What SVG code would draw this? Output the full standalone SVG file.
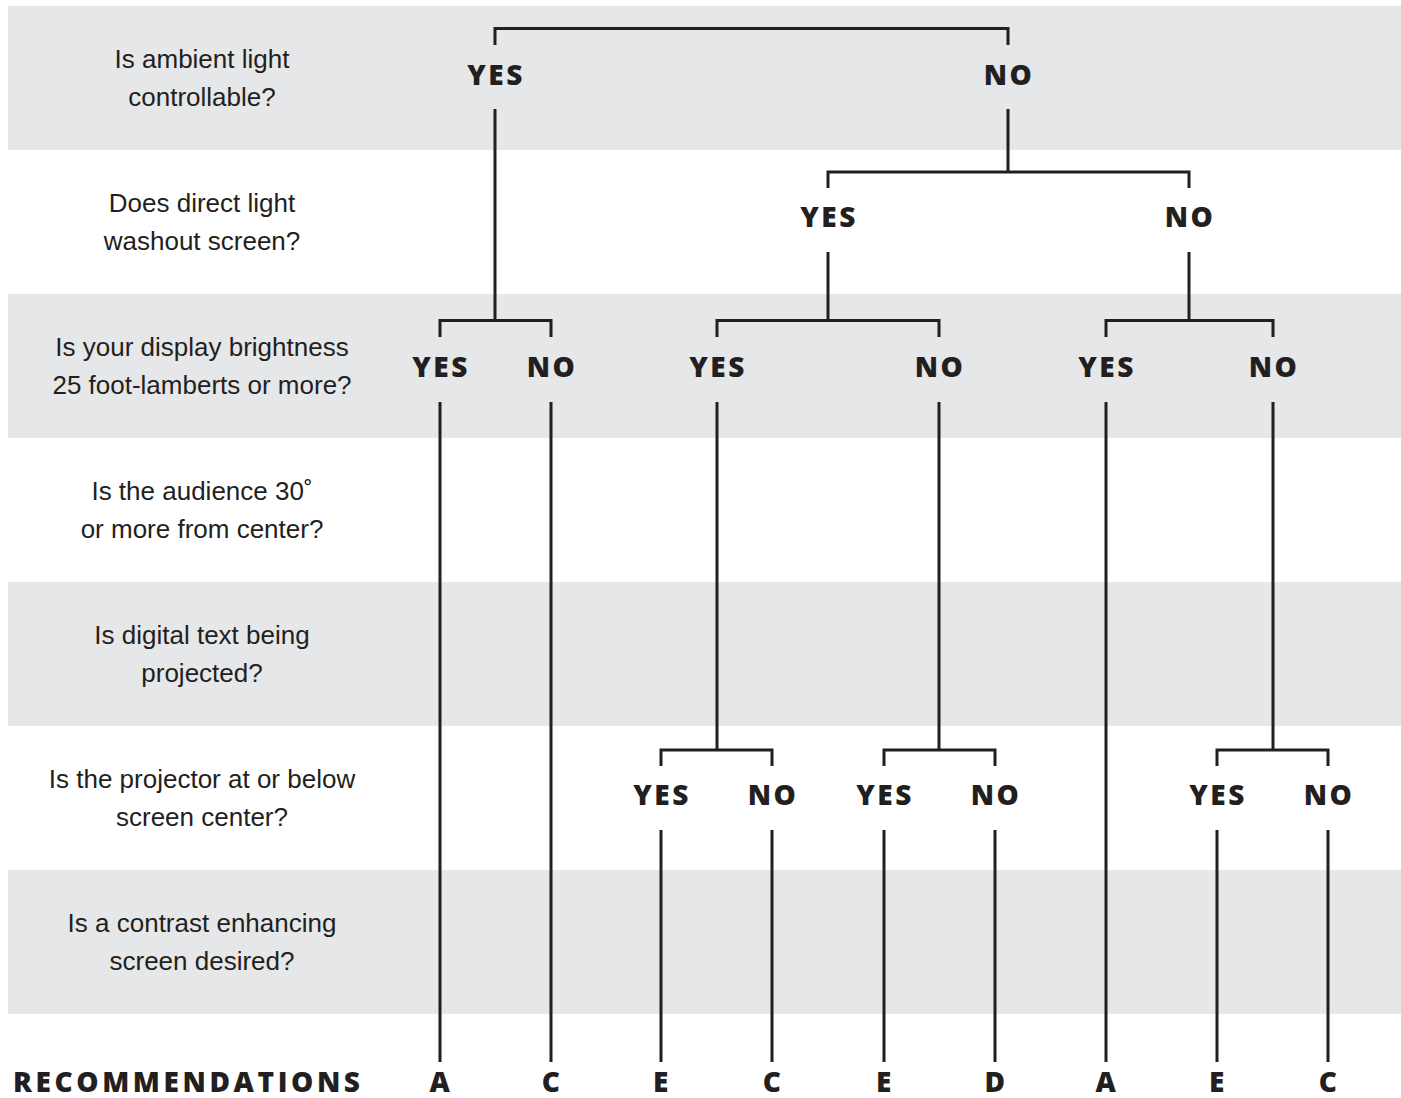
<svg xmlns="http://www.w3.org/2000/svg" width="1401" height="1098" viewBox="0 0 1401 1098">
<style>
.band{fill:#e6e7e8}
.q{font-family:"Liberation Sans",Arial,sans-serif;font-size:26px;fill:#231f20;text-anchor:middle}
.a{font-family:"Open Sans",sans-serif;font-weight:800;font-size:28px;fill:#231f20;text-anchor:middle;letter-spacing:2.5px}
.r{font-family:"Open Sans",sans-serif;font-weight:800;font-size:28px;fill:#231f20}
.c{fill:none;stroke:#231f20;stroke-width:3;stroke-linecap:butt;stroke-linejoin:miter}
</style>
<rect width="1401" height="1098" fill="#ffffff"/>
<g id="bands">
<rect class="band" x="8" y="6" width="1393" height="144"/>
<rect class="band" x="8" y="294" width="1393" height="144"/>
<rect class="band" x="8" y="582" width="1393" height="144"/>
<rect class="band" x="8" y="870" width="1393" height="144"/>
</g>
<g id="questions">
<g id="q1"><text class="q" x="202" y="68">Is ambient light</text><text class="q" x="202" y="106">controllable?</text></g>
<g id="q2"><text class="q" x="202" y="212">Does direct light</text><text class="q" x="202" y="250">washout screen?</text></g>
<g id="q3"><text class="q" x="202" y="356">Is your display brightness</text><text class="q" x="202" y="394">25 foot-lamberts or more?</text></g>
<g id="q4"><text class="q" x="202" y="500">Is the audience 30˚</text><text class="q" x="202" y="538">or more from center?</text></g>
<g id="q5"><text class="q" x="202" y="644">Is digital text being</text><text class="q" x="202" y="682">projected?</text></g>
<g id="q6"><text class="q" x="202" y="788">Is the projector at or below</text><text class="q" x="202" y="826">screen center?</text></g>
<g id="q7"><text class="q" x="202" y="932">Is a contrast enhancing</text><text class="q" x="202" y="970">screen desired?</text></g>
</g>
<g id="connectors">
<path class="c" d="M495,45 V28.5 H1008 V45"/>
<path class="c" d="M495,109 V320.5 M440,337 V320.5 H551 V337"/>
<path class="c" d="M1008,109 V172 M828,188 V172 H1189 V188"/>
<path class="c" d="M828,252 V320.5 M717,337 V320.5 H939 V337"/>
<path class="c" d="M1189,252 V320.5 M1106,337 V320.5 H1273 V337"/>
<path class="c" d="M440,402 V1062 M551,402 V1062 M1106,402 V1062"/>
<path class="c" d="M717,402 V750 M661,766 V750 H772 V766"/>
<path class="c" d="M939,402 V750 M884,766 V750 H995 V766"/>
<path class="c" d="M1273,402 V750 M1217,766 V750 H1328 V766"/>
<path class="c" d="M661,830 V1062 M772,830 V1062 M884,830 V1062 M995,830 V1062 M1217,830 V1062 M1328,830 V1062"/>
</g>
<g id="answers">
<g id="r1-yes"><text class="a" x="496" y="85">YES</text></g>
<g id="r1-no"><text class="a" x="1009" y="85">NO</text></g>
<g id="r2-yes"><text class="a" x="829" y="227">YES</text></g>
<g id="r2-no"><text class="a" x="1190" y="227">NO</text></g>
<g id="r3-yes1"><text class="a" x="441" y="377">YES</text></g>
<g id="r3-no1"><text class="a" x="552" y="377">NO</text></g>
<g id="r3-yes2"><text class="a" x="718" y="377">YES</text></g>
<g id="r3-no2"><text class="a" x="940" y="377">NO</text></g>
<g id="r3-yes3"><text class="a" x="1107" y="377">YES</text></g>
<g id="r3-no3"><text class="a" x="1274" y="377">NO</text></g>
<g id="r6-yes1"><text class="a" x="662" y="805">YES</text></g>
<g id="r6-no1"><text class="a" x="773" y="805">NO</text></g>
<g id="r6-yes2"><text class="a" x="885" y="805">YES</text></g>
<g id="r6-no2"><text class="a" x="996" y="805">NO</text></g>
<g id="r6-yes3"><text class="a" x="1218" y="805">YES</text></g>
<g id="r6-no3"><text class="a" x="1329" y="805">NO</text></g>
</g>
<g id="recommendations">
<text class="r" x="13" y="1092" textLength="347" lengthAdjust="spacing">RECOMMENDATIONS</text>
<g id="leaf1"><text class="a" x="441" y="1092">A</text></g>
<g id="leaf2"><text class="a" x="552" y="1092">C</text></g>
<g id="leaf3"><text class="a" x="662" y="1092">E</text></g>
<g id="leaf4"><text class="a" x="773" y="1092">C</text></g>
<g id="leaf5"><text class="a" x="885" y="1092">E</text></g>
<g id="leaf6"><text class="a" x="996" y="1092">D</text></g>
<g id="leaf7"><text class="a" x="1107" y="1092">A</text></g>
<g id="leaf8"><text class="a" x="1218" y="1092">E</text></g>
<g id="leaf9"><text class="a" x="1329" y="1092">C</text></g>
</g>
</svg>
